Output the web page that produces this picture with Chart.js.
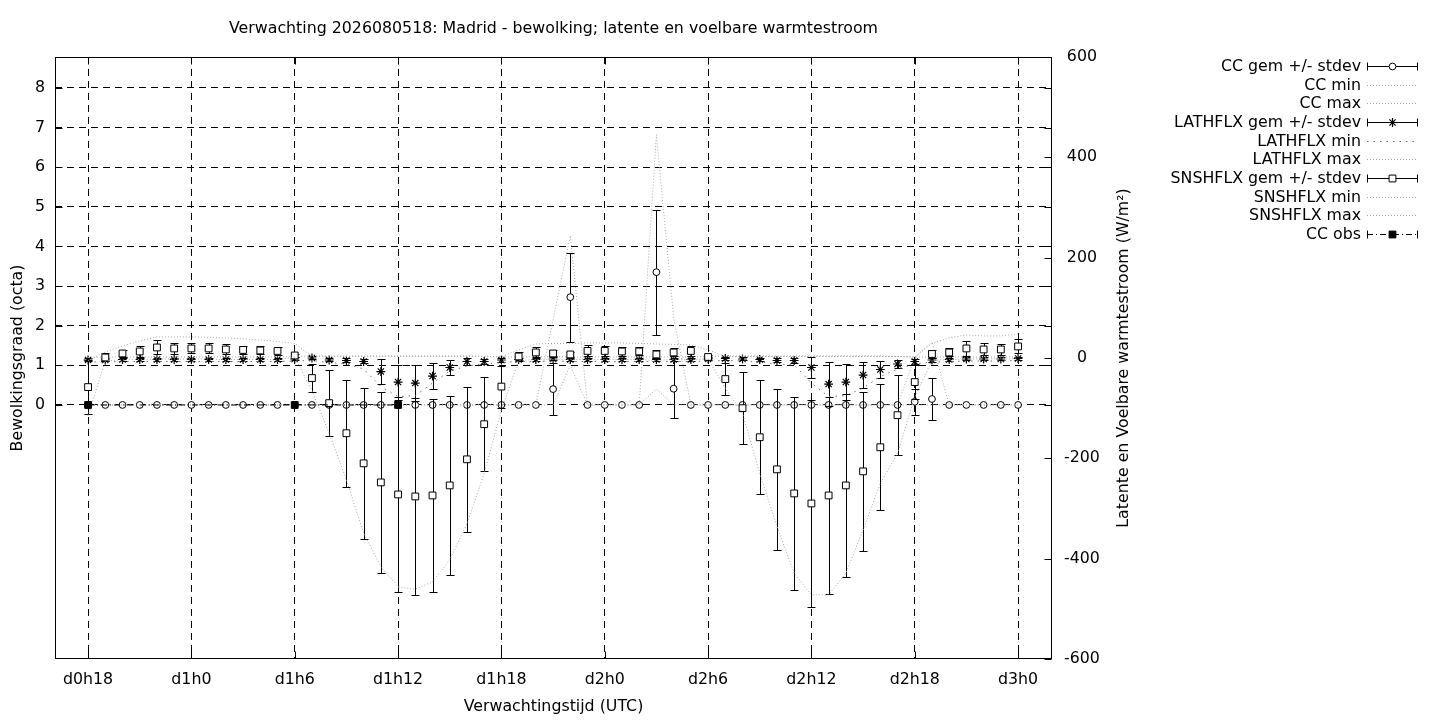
<!DOCTYPE html>
<html>
<head>
<meta charset="utf-8">
<title>Verwachting Madrid - bewolking en warmtestroom</title>
<script src="https://cdn.jsdelivr.net/npm/chart.js@4.4.1/dist/chart.umd.min.js"></script>
<style>
  html, body { margin: 0; padding: 0; background: #fff; }
</style>
</head>
<body>
<canvas id="meteogram" width="1440" height="720"></canvas>
<script>
// Lead time in hours after d0h18 (one point per hour)
const hours = [
  0, 1, 2, 3, 4, 5, 6, 7, 8, 9, 10, 11, 12, 13, 14, 15, 16, 17, 18, 19,
  20, 21, 22, 23, 24, 25, 26, 27, 28, 29, 30, 31, 32, 33, 34, 35, 36, 37, 38, 39,
  40, 41, 42, 43, 44, 45, 46, 47, 48, 49, 50, 51, 52, 53, 54
];
const xTickValues = [0, 6, 12, 18, 24, 30, 36, 42, 48, 54];
const xTickLabels = ['d0h18', 'd1h0', 'd1h6', 'd1h12', 'd1h18', 'd2h0', 'd2h6', 'd2h12', 'd2h18', 'd3h0'];
const ccTicks = [0, 1, 2, 3, 4, 5, 6, 7, 8];
const fluxTicks = [-600, -400, -200, 0, 200, 400, 600];

// Cloud cover (octa)
const ccMean = [
  0, 0, 0, 0, 0, 0,   0, 0, 0, 0, 0, 0,   0, 0, 0, 0, 0, 0,   0, 0, 0, 0, 0, 0,
  0, 0, 0, 0.40, 2.72, 0,   0, 0, 0, 3.35, 0.41, 0,   0, 0, 0, 0, 0, 0,
  0, 0, 0, 0, 0, 0,   0.08, 0.15, 0, 0, 0, 0,   0
];
const ccSd = [
  0, 0, 0, 0, 0, 0,   0, 0, 0, 0, 0, 0,   0, 0, 0, 0, 0, 0,   0, 0, 0, 0, 0, 0,
  0, 0, 0, 0.65, 1.12, 0,   0, 0, 0, 1.58, 0.74, 0,   0, 0, 0, 0, 0, 0,
  0, 0, 0, 0, 0, 0,   0.33, 0.54, 0, 0, 0, 0,   0
];
const ccMin = [
  0, 0, 0, 0, 0, 0,   0, 0, 0, 0, 0, 0,   0, 0, 0, 0, 0, 0,   0, 0, 0, 0, 0, 0,
  0, 0, 0, 0, 1.0, 0,   0, 0, 0, 0.4, 0, 0,   0, 0, 0, 0, 0, 0,
  0, 0, 0, 0, 0, 0,   0, 0, 0, 0, 0, 0,   0
];
const ccMax = [
  0, 0, 0, 0, 0, 0,   0, 0, 0, 0, 0, 0,   0, 0, 0, 0, 0, 0,   0, 0, 0, 0, 0, 0,
  0, 0, 0, 2.15, 4.27, 0,   0, 0, 0, 6.82, 2.2, 0,   0, 0, 0, 0, 0, 0,
  0, 0, 0, 0, 0, 0,   1.2, 1.6, 0, 0, 0, 0,   0
];

// Latent heat flux (W/m2)
const lhMean = [
  -4, -4, -3, -3, -3, -3,   -3, -3, -3, -3, -3, -3,   -2, 0, -4, -5, -7, -27,
  -48, -50, -36, -19, -7, -7,   -4, -3, -3, -2, -3, -3,   -3, -3, -3, -3, -3, -3,
  -2, -1, -2, -3, -5, -5,   -19, -52, -48, -34, -23, -12,   -7, -4, -3, -2, -2, -2,   -1
];
const lhSd = [
  3, 3, 3, 3, 3, 3,   3, 3, 3, 3, 3, 3,   3, 3, 3, 4, 4, 24,
  35, 36, 26, 15, 6, 5,   4, 3, 3, 3, 3, 3,   3, 3, 3, 3, 3, 3,
  3, 3, 3, 3, 4, 5,   20, 43, 36, 25, 17, 8,   5, 4, 3, 3, 3, 3,   3
];
const lhMin = [
  -8, -8, -7, -7, -7, -7,   -7, -7, -7, -7, -7, -7,   -6, -5, -9, -12, -22, -57,
  -77, -75, -50, -26, -16, -12,   -9, -7, -7, -6, -7, -7,   -7, -7, -7, -7, -7, -7,
  -6, -5, -6, -8, -12, -14,   -50, -77, -75, -60, -37, -22,   -12, -8, -7, -6, -6, -6,   -5
];
const lhMax = [
  1, 2, 2, 2, 2, 2,   2, 2, 2, 2, 2, 2,   3, 4, 4, 4, 4, 4,
  4, 4, 4, 4, 4, 3,   2, 2, 2, 3, 2, 2,   2, 2, 2, 2, 2, 2,
  3, 4, 4, 4, 4, 4,   4, 4, 4, 4, 4, 3,   2, 2, 2, 2, 2, 2,   2
];

// Sensible heat flux (W/m2)
const shMean = [
  -58, 1, 9, 13, 21, 19,   19, 19, 17, 16, 15, 14,   5, -40, -90, -150, -210, -248,
  -272, -276, -274, -254, -202, -132,   -57, 3, 11, 9, 7, 14,   14, 13, 13, 7, 11, 14,
  2, -42, -100, -158, -222, -270,   -290, -274, -254, -226, -178, -114,   -48, 8, 11, 19, 17, 17,   23
];
const shSd = [
  54, 8, 7, 11, 14, 11,   10, 10, 10, 8, 8, 8,   3, 28, 66, 107, 151, 180,
  194, 197, 193, 179, 145, 94,   42, 8, 10, 6, 5, 11,   10, 9, 8, 8, 8, 10,
  3, 31, 72, 114, 160, 193,   207, 197, 183, 159, 126, 80,   34, 8, 8, 15, 12, 11,   14
];
const shMin = [
  -115, -6, -4, -3, -2, -2,   -2, -2, -3, -3, -3, -4,   2, -65, -150, -243, -349, -416,
  -456, -461, -446, -403, -330, -230,   -104, -5, -3, -3, -3, -3,   -3, -3, -3, -5, -3, -3,
  -2, -60, -110, -230, -336, -429,   -472, -472, -429, -343, -250, -190,   -78, -5, -3, -2, -2, -2,   -2
];
const shMax = [
  -5, 12, 24, 34, 42, 42,   42, 41, 40, 38, 36, 33,   29, 3, 3, 3, 3, 3,
  3, 3, 3, 3, 3, 3,   3, 16, 28, 29, 29, 30,   30, 30, 29, 28, 27, 26,
  16, 3, 3, 3, 3, 3,   3, 3, 3, 3, 3, 3,   2, 29, 40, 46, 44, 44,   48
];

// Observed cloud cover
const obsHours = [0, 12, 18];
const obsCC = [0, 0, 0];

const GREY = '#a8a8a8';
const CAP = 4;
const FONT_SIZE = 15.8;

Chart.defaults.font.family = 'DejaVu Sans';
Chart.defaults.font.size = FONT_SIZE;
Chart.defaults.color = '#000';

function dottedLine(label, data, axis, color, dash) {
    return {
        label: label, data: data, yAxisID: axis,
        borderColor: color, borderWidth: 1, borderDash: dash,
        pointRadius: 0, fill: false
    };
}

const datasets = [
    {
        label: 'CC gem +/- stdev', data: ccMean, sd: ccSd, yAxisID: 'y', showLine: false,
        pointStyle: 'circle', pointRadius: 3.4, pointBorderWidth: 1,
        pointBackgroundColor: '#fff', pointBorderColor: '#000'
    },
    dottedLine('CC min', ccMin, 'y', GREY, [1, 2]),
    dottedLine('CC max', ccMax, 'y', GREY, [1, 2]),
    {
        label: 'LATHFLX gem +/- stdev', data: lhMean, sd: lhSd, yAxisID: 'y2', showLine: false,
        pointStyle: 'star', pointRadius: 4.4, pointBorderWidth: 1.2,
        pointBackgroundColor: '#000', pointBorderColor: '#000'
    },
    dottedLine('LATHFLX min', lhMin, 'y2', '#707070', [1.5, 5]),
    dottedLine('LATHFLX max', lhMax, 'y2', GREY, [1, 2]),
    {
        label: 'SNSHFLX gem +/- stdev', data: shMean, sd: shSd, yAxisID: 'y2', showLine: false,
        pointStyle: 'rect', pointRadius: 4.8, pointBorderWidth: 1,
        pointBackgroundColor: '#fff', pointBorderColor: '#000'
    },
    dottedLine('SNSHFLX min', shMin, 'y2', GREY, [1, 2]),
    dottedLine('SNSHFLX max', shMax, 'y2', GREY, [1, 2]),
    {
        label: 'CC obs', data: obsHours.map((h, i) => ({ x: h, y: obsCC[i] })), yAxisID: 'y',
        borderColor: '#000', borderWidth: 1, borderDash: [6, 3, 1, 3],
        pointStyle: 'rect', pointRadius: 4.8, pointBorderWidth: 1,
        pointBackgroundColor: '#000', pointBorderColor: '#000'
    }
];
// later series are drawn on top, as in the original plot order
datasets.forEach((ds, i) => { ds.order = datasets.length - i; });

// vertical +/- stdev bars, drawn just below each series' markers
const errorBars = {
    id: 'errorBars',
    beforeDatasetDraw(chart, args) {
        const ds = chart.data.datasets[args.index];
        if (!ds.sd) return;
        const ctx = chart.ctx;
        const xs = chart.scales.x;
        const ys = chart.scales[ds.yAxisID];
        ctx.save();
        ctx.strokeStyle = '#000';
        ctx.lineWidth = 1;
        ctx.beginPath();
        ds.data.forEach((m, i) => {
            const s = ds.sd[i];
            if (!s) return;
            const x = Math.round(xs.getPixelForValue(hours[i])) + 0.5;
            const yTop = Math.round(ys.getPixelForValue(m + s)) + 0.5;
            const yBot = Math.round(ys.getPixelForValue(m - s)) + 0.5;
            ctx.moveTo(x, yTop); ctx.lineTo(x, yBot);
            ctx.moveTo(x - CAP, yTop); ctx.lineTo(x + CAP, yTop);
            ctx.moveTo(x - CAP, yBot); ctx.lineTo(x + CAP, yBot);
        });
        ctx.stroke();
        ctx.restore();
    }
};

function drawMarker(ctx, style, x, y) {
    ctx.beginPath();
    if (style === 'circle') {
        ctx.arc(x, y, 3.4, 0, Math.PI * 2);
        ctx.fillStyle = '#fff'; ctx.fill(); ctx.stroke();
    } else if (style === 'star') {
        const r = 4.4, d = r * Math.SQRT1_2;
        ctx.lineWidth = 1.2;
        ctx.moveTo(x - r, y); ctx.lineTo(x + r, y);
        ctx.moveTo(x, y - r); ctx.lineTo(x, y + r);
        ctx.moveTo(x - d, y - d); ctx.lineTo(x + d, y + d);
        ctx.moveTo(x - d, y + d); ctx.lineTo(x + d, y - d);
        ctx.stroke();
        ctx.lineWidth = 1;
    } else {
        ctx.rect(x - 3.4, y - 3.4, 6.8, 6.8);
        ctx.fillStyle = style === 'filled' ? '#000' : '#fff';
        ctx.fill(); ctx.stroke();
    }
}

// frame, inward tick marks, right axis label and the legend
const decorations = {
    id: 'decorations',
    afterDraw(chart) {
        const ctx = chart.ctx;
        const a = chart.chartArea;
        const xs = chart.scales.x, yl = chart.scales.y, yr = chart.scales.y2;
        const L = Math.round(a.left) + 0.5, R = Math.round(a.right) - 0.5;
        const T = Math.round(a.top) + 0.5, B = Math.round(a.bottom) - 0.5;
        ctx.save();
        ctx.strokeStyle = '#000';
        ctx.lineWidth = 1;
        ctx.setLineDash([]);
        ctx.strokeRect(L, T, R - L, B - T);

        ctx.beginPath();
        xTickValues.forEach(v => {
            const x = Math.round(xs.getPixelForValue(v)) + 0.5;
            ctx.moveTo(x, B); ctx.lineTo(x, B - 7);
            ctx.moveTo(x, T); ctx.lineTo(x, T + 7);
        });
        ccTicks.forEach(v => {
            const y = Math.round(yl.getPixelForValue(v)) + 0.5;
            ctx.moveTo(L, y); ctx.lineTo(L + 7, y);
            ctx.moveTo(R, y); ctx.lineTo(R - 7, y);
        });
        fluxTicks.forEach(v => {
            const y = Math.round(yr.getPixelForValue(v)) + 0.5;
            ctx.moveTo(R, y); ctx.lineTo(R - 7, y);
        });
        ctx.stroke();

        ctx.fillStyle = '#000';
        ctx.font = FONT_SIZE + 'px "DejaVu Sans"';
        ctx.textAlign = 'center';
        ctx.textBaseline = 'middle';
        ctx.save();
        ctx.translate(1124, (a.top + a.bottom) / 2);
        ctx.rotate(-Math.PI / 2);
        ctx.fillText('Latente en Voelbare warmtestroom (W/m\u00B2)', 0, 0);
        ctx.restore();

        const legendRows = [
            ['CC gem +/- stdev', 'bar', 'circle'],
            ['CC min', 'dots'],
            ['CC max', 'dots'],
            ['LATHFLX gem +/- stdev', 'bar', 'star'],
            ['LATHFLX min', 'sparse'],
            ['LATHFLX max', 'dots'],
            ['SNSHFLX gem +/- stdev', 'bar', 'square'],
            ['SNSHFLX min', 'dots'],
            ['SNSHFLX max', 'dots'],
            ['CC obs', 'obs', 'filled']
        ];
        const x0 = 1367, x1 = 1418, xm = (x0 + x1) / 2;
        legendRows.forEach((row, k) => {
            const y = Math.round(66 + k * 18.65) + 0.5;
            ctx.fillStyle = '#000';
            ctx.textAlign = 'right';
            ctx.fillText(row[0], 1361, y);
            ctx.beginPath();
            if (row[1] === 'dots') {
                ctx.strokeStyle = GREY; ctx.setLineDash([1, 2]);
            } else if (row[1] === 'sparse') {
                ctx.strokeStyle = '#707070'; ctx.setLineDash([1.5, 5]);
            } else if (row[1] === 'obs') {
                ctx.strokeStyle = '#000'; ctx.setLineDash([6, 3, 1, 3]);
            } else {
                ctx.strokeStyle = '#000'; ctx.setLineDash([]);
            }
            ctx.moveTo(x0, y); ctx.lineTo(x1, y);
            ctx.stroke();
            ctx.setLineDash([]);
            ctx.strokeStyle = '#000';
            if (row[2]) {
                ctx.beginPath();
                ctx.moveTo(x0 + 0.5, y - CAP); ctx.lineTo(x0 + 0.5, y + CAP);
                ctx.moveTo(x1 - 0.5, y - CAP); ctx.lineTo(x1 - 0.5, y + CAP);
                ctx.stroke();
                drawMarker(ctx, row[2], xm, y);
            }
        });
        ctx.restore();
    }
};

new Chart(document.getElementById('meteogram'), {
    type: 'line',
    data: { labels: hours, datasets: datasets },
    plugins: [errorBars, decorations],
    options: {
        responsive: false,
        animation: false,
        events: [],
        spanGaps: true,
        layout: { padding: 0 },
        elements: { line: { tension: 0 } },
        plugins: {
            legend: { display: false },
            tooltip: { enabled: false },
            title: {
                display: true,
                fullSize: false,
                text: 'Verwachting 2026080518: Madrid - bewolking; latente en voelbare warmtestroom',
                color: '#000',
                font: { size: FONT_SIZE, weight: 'normal' },
                padding: { top: 19.5, bottom: 18.5 }
            }
        },
        scales: {
            x: {
                type: 'linear',
                position: 'bottom',
                min: -1.92,
                max: 55.97,
                afterBuildTicks: s => { s.ticks = xTickValues.map(v => ({ value: v })); },
                afterFit: s => { s.height = 61; },
                ticks: {
                    autoSkip: false, maxRotation: 0, padding: 11,
                    callback: v => xTickLabels[xTickValues.indexOf(v)]
                },
                grid: { color: '#000', lineWidth: 1, drawTicks: false },
                border: { display: false, dash: [7, 5] },
                title: { display: true, text: 'Verwachtingstijd (UTC)', padding: { top: 0, bottom: 3.5 } }
            },
            y: {
                type: 'linear',
                position: 'left',
                min: -6.41,
                max: 8.78,
                afterBuildTicks: s => { s.ticks = ccTicks.map(v => ({ value: v })); },
                afterFit: s => { s.width = 55; },
                ticks: { autoSkip: false, padding: 10 },
                grid: { color: '#000', lineWidth: 1, drawTicks: false },
                border: { display: false, dash: [7, 5] },
                title: { display: true, text: 'Bewolkingsgraad (octa)', padding: { top: 8.5, bottom: 0 } }
            },
            y2: {
                type: 'linear',
                position: 'right',
                min: -600,
                max: 600,
                afterBuildTicks: s => { s.ticks = fluxTicks.map(v => ({ value: v })); },
                afterFit: s => { s.width = 388; },
                ticks: { autoSkip: false, padding: 12, crossAlign: 'center' },
                grid: { display: false, drawTicks: false },
                border: { display: false }
            }
        }
    }
});
</script>
</body>
</html>
